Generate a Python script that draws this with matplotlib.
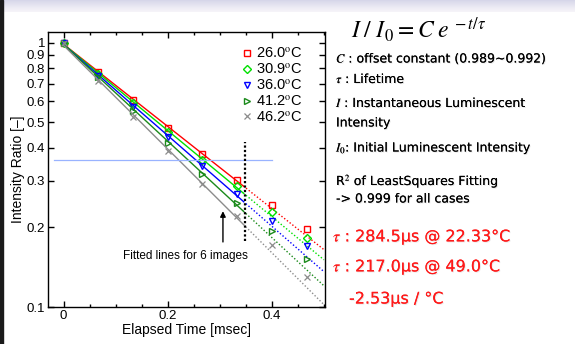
import numpy as np
import matplotlib
matplotlib.use("Agg")
import matplotlib.pyplot as plt
import matplotlib.patheffects as pe
from matplotlib.ticker import FixedLocator, FixedFormatter, MultipleLocator

plt.rcParams['mathtext.fontset'] = 'stix'

# elapsed time of each image [msec]
t = [0.0, 0.0667, 0.1333, 0.2, 0.2667, 0.3333, 0.4, 0.4667]

labels = ["26.0$^{\\rm o}$C", "30.9$^{\\rm o}$C", "36.0$^{\\rm o}$C",
          "41.2$^{\\rm o}$C", "46.2$^{\\rm o}$C"]
r260 = [1.0, 0.773, 0.605, 0.477, 0.379, 0.303, 0.244, 0.197]
r309 = [1.0, 0.761, 0.593, 0.461, 0.360, 0.286, 0.228, 0.183]
r360 = [1.0, 0.750, 0.573, 0.439, 0.340, 0.268, 0.212, 0.170]
r412 = [1.0, 0.740, 0.553, 0.417, 0.319, 0.247, 0.194, 0.152]
r462 = [1.0, 0.716, 0.525, 0.390, 0.292, 0.221, 0.171, 0.130]
series = [r260, r309, r360, r412, r462]

colors = ["#ff0000", "#00e000", "#0000ff", "#1a8a1a", "#8c8c8c"]
markers = ["s", "D", "v", ">", "x"]
msizes = [5, 4, 5, 5, 4]

yticks = [0.1, 0.2, 0.3, 0.4, 0.5, 0.6, 0.7, 0.8, 0.9, 1.0]
ylabels = ["0.1", "0.2", "0.3", "0.4", "0.5", "0.6", "0.7", "0.8", "0.9", "1"]

n_fit = 6       # fitted with first 6 images
t_split = 0.345
e_level = 0.36

fig = plt.figure(figsize=(5.75, 3.44), dpi=100)
fig.patch.set_facecolor("white")

# top lavender band and dark left strip
band = fig.add_axes([0, 1 - 12 / 344, 1, 12 / 344])
band.imshow(np.linspace(0, 1, 20)[:, None], aspect="auto", cmap="Purples_r",
            vmin=-3.5, vmax=1.3, extent=[0, 1, 0, 1])
band.axis("off")
fig.patches.append(plt.Rectangle((0, 0), 3 / 575, 1, transform=fig.transFigure,
                                 color="#1a1a1a", zorder=5))

ax = fig.add_axes([48 / 575, 1 - 307 / 344, 277 / 575, 275 / 344])
ax.set_yscale("log")

tt = np.array(t)
for vals, c, m, ms, lab in zip(series, colors, markers, msizes, labels):
    v = np.array(vals)
    k, b = np.polyfit(tt[:n_fit], np.log(v[:n_fit]), 1)
    x1 = np.linspace(0, t_split, 20)
    x2 = np.linspace(t_split, 0.5, 20)
    ax.plot(x1, np.exp(b + k * x1), color=c, lw=1.0)
    ax.plot(x2, np.exp(b + k * x2), color=c, lw=1.0, ls=(0, (1, 1.5)))
    if m == "x":
        ax.plot(tt, v, ls="none", marker=m, ms=ms, color=c, mew=0.9, label=lab)
    else:
        ax.plot(tt, v, ls="none", marker=m, ms=ms, mfc="none", mec=c,
                mew=1.0, label=lab)

ax.plot([-0.019, 0.4], [e_level, e_level], color="#99b3ff", lw=0.9)
ax.plot([0.349, 0.349], [0.177, 0.422], color="black", lw=1.6, ls=(0, (1, 1)))
ax.annotate("", xy=(0.306, 0.236), xytext=(0.306, 0.172),
            arrowprops=dict(arrowstyle="-|>", color="black", lw=1.0,
                            mutation_scale=8))
ax.text(0.2335, 0.156, "Fitted lines for 6 images", ha="center", va="center",
        fontsize=8.5, family="Liberation Sans")

ax.set_xlim(-0.03, 0.502)
ax.set_ylim(0.1, 1.097)
ax.yaxis.set_major_locator(FixedLocator(yticks))
ax.yaxis.set_major_formatter(FixedFormatter(ylabels))
ax.yaxis.set_minor_locator(FixedLocator([]))
ax.xaxis.set_major_locator(MultipleLocator(0.2))
ax.xaxis.set_minor_locator(MultipleLocator(0.05))
ax.xaxis.set_major_formatter(plt.FuncFormatter(lambda v, p: "0" if v == 0 else f"{v:g}"))
ax.tick_params(which="both", direction="in", top=True, right=True,
               labelsize=9.5, pad=2)
ax.tick_params(which="major", length=4, width=1)
ax.tick_params(which="minor", length=2, width=1)
for lb in ax.get_xticklabels() + ax.get_yticklabels():
    lb.set_family("Liberation Sans")
for s in ax.spines.values():
    s.set_linewidth(1.0)
ax.set_xlabel("Elapsed Time [msec]", fontsize=10, family="Liberation Sans", labelpad=1)
ax.set_ylabel("Intensity Ratio [\u2013]", fontsize=10, family="Liberation Sans", labelpad=1)

ax.legend(loc="upper right", bbox_to_anchor=(0.955, 0.985), frameon=False,
          prop={"family": "Liberation Sans", "size": 10.5}, handlelength=0.7,
          handletextpad=0.25, labelspacing=0.08, borderaxespad=0.3)

# explanatory text on the right
shadow = [pe.withSimplePatchShadow(offset=(0.7, -0.7), shadow_rgbFace="#bbbbbb",
                                   alpha=0.35), pe.Normal()]
fig.text(351 / 575, 1 - 30 / 344, r"$I\;/\;I_{\,0} = C\;e^{\,-t/\tau}$",
         fontsize=17, va="center", ha="left")
tx = 336 / 575
info = [
    (58, r"$C$ : offset constant (0.989~0.992)"),
    (79, r"$\tau$ : Lifetime"),
    (103, r"$I$ : Instantaneous Luminescent"),
    (123, "Intensity"),
    (148, r"$I_0$: Initial Luminescent Intensity"),
    (181, "R$^2$ of LeastSquares Fitting"),
    (199, "-> 0.999 for all cases"),
]
for y, s in info:
    fig.text(tx, 1 - y / 344, s, fontsize=9.0, va="center", ha="left",
             family="DejaVu Sans", path_effects=shadow)

red_lines = [
    (333, 237, r"$\tau$ : 284.5" + "\u03bcs @ 22.33\u00b0C"),
    (333, 267, r"$\tau$ : 217.0" + "\u03bcs @ 49.0\u00b0C"),
    (349, 299, "-2.53\u03bcs / \u00b0C"),
]
for x, y, s in red_lines:
    fig.text(x / 575, 1 - y / 344, s, fontsize=11.5, color="#ff1a1a",
             va="center", ha="left", family="DejaVu Sans", path_effects=shadow)

fig.savefig("out.png", dpi=100)
